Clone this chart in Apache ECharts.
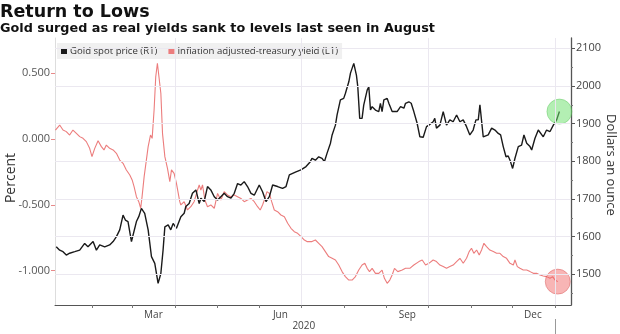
<!DOCTYPE html>
<html><head><meta charset="utf-8">
<script src="https://cdn.jsdelivr.net/npm/echarts@6/dist/echarts.min.js"></script>
<style>html,body{margin:0;padding:0;background:#fff}#c{width:620px;height:334px}</style>
</head><body><div id="c"></div>
<script>
const titleText = 'Return to Lows';
const subtitleText = 'Gold surged as real yields sank to levels last seen in August';
const goldName = 'Gold spot price (R1)';
const yieldName = 'Inflation adjusted-treasury yield (L1)';
const leftAxisName = 'Percent';
const rightAxisName = 'Dollars an ounce';

// x values: days since 2020-01-01
const goldDays = [4.6,7.1,9.5,11.9,14.3,18.0,21.6,25.2,27.6,31.3,33.7,36.1,39.7,43.3,45.8,48.2,50.6,53.0,54.7,56.6,59.1,60.3,62.7,64.4,66.3,68.7,71.2,73.6,76.0,78.4,80.4,82.0,83.3,85.7,87.6,89.3,91.7,
94.9,97.3,98.5,100.9,103.3,105.8,108.2,109.4,111.8,114.2,116.6,119.1,121.5,123.9,126.3,128.7,131.2,133.6,136.0,138.4,140.8,143.2,145.7,148.1,151.7,154.1,156.6,159.0,161.4,165.0,168.6,171.1,173.5,175.9,178.3,181.9,185.6,
188.7,189.9,192.4,194.8,197.2,198.9,200.8,203.3,204.5,206.9,208.1,210.5,212.9,214.1,215.3,216.6,217.8,220.2,222.1,223.1,224.5,226.2,227.4,228.6,229.9,231.1,232.3,233.5,235.9,238.3,239.5,240.7,242.0,244.4,245.6,248.0,251.6,254.1,256.5,257.7,260.1,261.8,263.7,266.1,268.1,270.5,272.9,274.6,
277.7,278.9,280.1,282.6,285.0,287.4,289.8,292.2,294.7,297.1,299.5,301.9,304.3,306.7,308.7,310.4,311.6,312.8,314.0,315.2,317.6,320.1,322.5,324.9,326.6,328.5,330.5,332.1,333.4,335.3,337.0,339.4,341.8,343.5,345.5,347.9,349.1,351.5,353.9,355.1,357.5,359.9,362.4,364.8,367.2,369.2];
const goldPrice = [1573,1564,1560,1551,1556,1560,1564,1582,1573,1587,1564,1578,1573,1578,1587,1600,1618,1657,1644,1640,1587,1591,1640,1653,1675,1662,1618,1547,1529,1476,1502,1564,1626,1631,1618,1635,1622,
1653,1662,1680,1688,1715,1724,1688,1702,1693,1733,1724,1706,1697,1706,1715,1706,1702,1715,1741,1737,1746,1733,1715,1710,1737,1719,1693,1706,1737,1733,1728,1733,1764,1768,1772,1777,1786,
1799,1808,1803,1812,1808,1799,1821,1848,1870,1896,1923,1963,1967,1980,1985,2011,2034,2060,2029,1998,1914,1914,1949,1945,1989,1998,1936,1945,1936,1932,1954,1932,1963,1967,1954,1932,1932,1945,1941,1954,1958,1954,1932,1901,1865,1864,1892,1896,
1905,1914,1888,1896,1932,1896,1910,1905,1923,1905,1910,1892,1870,1883,1910,1910,1950,1945,1865,1870,1870,1888,1883,1874,1870,1839,1812,1814,1803,1781,1808,1839,1843,1870,1848,1839,1830,1861,1883,1888,1865,1883,1879,1896,1910,1932];

const yieldDays = [4.0,4.6,7.1,9.5,11.9,14.3,16.7,19.2,21.6,24.0,26.4,28.8,30.5,32.5,34.9,37.3,39.2,40.9,43.3,45.8,48.2,50.6,53.0,55.4,57.9,59.6,61.0,62.7,64.4,65.8,66.8,68.3,69.9,71.2,72.9,74.1,75.5,76.7,77.9,79.1,80.4,81.6,83.3,85.2,86.9,88.1,90.0,91.7,94.1,
94.9,97.3,99.7,102.1,104.5,107.0,108.2,109.4,110.6,112.3,114.2,116.6,119.1,121.5,123.9,126.3,128.7,131.2,133.6,136.0,138.4,140.8,143.2,145.7,148.1,150.5,152.4,154.1,155.8,157.3,159.0,160.7,162.6,165.0,167.4,169.9,172.3,174.7,177.1,179.5,182.0,184.4,186.3,
189.9,192.4,194.8,197.2,199.6,202.0,204.5,206.9,209.3,211.7,214.1,216.6,219.0,221.4,223.8,226.2,228.2,229.9,231.6,233.5,235.9,238.3,240.7,242.4,244.4,246.3,248.0,249.7,252.1,255.3,257.7,260.8,263.7,267.4,269.8,272.2,274.6,
277.7,280.1,282.6,285.0,287.4,289.8,292.2,294.7,297.1,299.5,301.9,303.8,305.5,307.2,309.2,311.1,312.8,314.5,316.4,318.8,321.3,323.7,326.1,328.5,330.9,333.4,335.8,337.0,338.7,340.6,343.0,345.5,347.9,350.3,352.7,355.1,357.5,359.9,362.4,364.3,366.0,368.0];
const yieldPct = [0.068,0.081,0.106,0.068,0.056,0.030,0.068,0.043,0.018,0.005,-0.020,-0.071,-0.134,-0.071,-0.013,-0.058,-0.083,-0.046,-0.071,-0.083,-0.109,-0.160,-0.185,-0.235,-0.273,-0.311,-0.362,-0.438,-0.476,-0.526,-0.438,-0.286,-0.160,-0.058,0.030,0.005,0.220,0.473,0.575,0.575,0.347,0.043,-0.134,-0.223,-0.324,-0.235,-0.261,-0.337,-0.476,
-0.501,-0.476,-0.539,-0.514,-0.476,-0.387,-0.349,-0.387,-0.349,-0.463,-0.514,-0.501,-0.526,-0.413,-0.463,-0.400,-0.425,-0.438,-0.425,-0.438,-0.451,-0.476,-0.463,-0.451,-0.476,-0.514,-0.539,-0.501,-0.451,-0.400,-0.413,-0.476,-0.539,-0.552,-0.577,-0.590,-0.640,-0.678,-0.704,-0.716,-0.741,-0.767,-0.779,
-0.779,-0.767,-0.792,-0.817,-0.855,-0.893,-0.906,-0.919,-0.957,-1.007,-1.045,-1.071,-1.071,-1.045,-0.995,-0.957,-0.944,-0.982,-1.007,-0.982,-1.020,-1.020,-0.995,-1.058,-1.096,-1.071,-1.033,-0.982,-1.007,-0.995,-0.982,-0.982,-0.957,-0.931,-0.919,-0.957,-0.944,
-0.919,-0.931,-0.957,-0.969,-0.982,-0.969,-0.957,-0.931,-0.906,-0.944,-0.906,-0.855,-0.830,-0.868,-0.843,-0.881,-0.843,-0.792,-0.817,-0.843,-0.855,-0.868,-0.868,-0.893,-0.906,-0.944,-0.957,-0.919,-0.969,-0.982,-0.995,-0.995,-1.007,-1.020,-1.020,-1.033,-1.040,-1.045,-1.058,-1.045,-1.071,-1.083];

const leftTicks = [-1, -0.5, 0, 0.5];
const rightTicks = [1500, 1600, 1700, 1800, 1900, 2000, 2100];
const rightMinorTicks = [1450, 1550, 1650, 1750, 1850, 1950, 2050];
const monthStartDays = [31, 60, 91, 121, 152, 182, 213, 244, 274, 305, 335, 366];
const monthLabelDays = [75, 167, 259, 350];
const monthLabelText = ['Mar', 'Jun', 'Sep', 'Dec'];
const quarterDays = [91, 182, 274, 366];
const yearLabelDays = [184];
const yearLabelText = ['2020'];
const yearBreakDays = [366];

const AX_FONT = 'Open Sans, Liberation Sans, sans-serif';
const X_MIN = 3.7, X_MAX = 377.6;
const goldData = goldDays.map((d, i) => [d, goldPrice[i]]);
const yieldData = yieldDays.map((d, i) => [d, yieldPct[i]]);
const gridColor = '#ebe8f0';

const chart = echarts.init(document.getElementById('c'), null, {renderer: 'canvas'});
chart.setOption({
  animation: false,
  backgroundColor: '#fff',
  title: [{
    text: titleText, left: 0, top: 2, padding: 0,
    textStyle: {fontFamily: 'DejaVu Sans', fontWeight: 'bold', fontSize: 17.5, color: '#111', lineHeight: 20}
  }, {
    text: subtitleText, left: 0, top: 22, padding: 0,
    textStyle: {fontFamily: 'DejaVu Sans', fontWeight: 'bold', fontSize: 12.8, color: '#111', lineHeight: 14}
  }],
  legend: {
    data: [goldName, yieldName], left: 57, top: 43, padding: [3, 4, 3, 4],
    itemGap: 11, itemWidth: 6, itemHeight: 6, icon: 'rect',
    backgroundColor: '#f0f0f0',
    textStyle: {fontFamily: AX_FONT, fontSize: 9.6, color: '#333', padding: [0, 0, 0, -2]}
  },
  grid: {left: 55, right: 49, top: 38, bottom: 29, containLabel: false, outerBoundsMode: 'none'},
  xAxis: [{
    type: 'value', min: X_MIN, max: X_MAX,
    axisLine: {show: true, onZero: false, lineStyle: {color: '#555', width: 1}},
    axisTick: {show: true, customValues: monthStartDays, length: 3, lineStyle: {color: '#777'}},
    axisLabel: {customValues: monthLabelDays, margin: 5, fontFamily: AX_FONT, fontSize: 10, color: '#444',
      formatter: v => monthLabelText[monthLabelDays.indexOf(v)] || ''},
    splitLine: {show: false}
  }, {
    type: 'value', min: X_MIN, max: X_MAX, position: 'bottom', offset: 14,
    axisLine: {show: false, onZero: false},
    axisTick: {show: true, customValues: yearBreakDays, length: 18, lineStyle: {color: '#999'}},
    axisLabel: {customValues: yearLabelDays, margin: 2, fontFamily: AX_FONT, fontSize: 10, color: '#444',
      formatter: v => yearLabelText[yearLabelDays.indexOf(v)] || ''},
    splitLine: {show: false}
  }],
  yAxis: [{
    type: 'value', position: 'left', min: -1.2605, max: 0.7669,
    name: leftAxisName, nameLocation: 'middle', nameGap: 37, nameMoveOverlap: false,
    nameTextStyle: {fontFamily: AX_FONT, fontSize: 14, color: '#333', padding: [0, 13, 0, 0]},
    axisLine: {show: true, onZero: false, lineStyle: {color: '#ddd'}},
    axisTick: {show: true, customValues: leftTicks, length: 4, lineStyle: {color: '#e88a8a'}},
    axisLabel: {customValues: leftTicks, margin: 5, fontFamily: AX_FONT, fontSize: 11, color: '#555',
      formatter: v => v.toFixed(3)},
    splitLine: {show: false}
  }, {
    type: 'value', position: 'right', min: 1418.5, max: 2127.3,
    name: rightAxisName, nameLocation: 'middle', nameGap: 33, nameRotate: -90, nameMoveOverlap: false,
    nameTextStyle: {fontFamily: AX_FONT, fontSize: 13, color: '#333', padding: [0, 13, 0, 0]},
    axisLine: {show: true, onZero: false, lineStyle: {color: '#555', width: 1.3}},
    axisTick: {show: true, customValues: rightTicks, length: 4, lineStyle: {color: '#555'}},
    axisLabel: {customValues: rightTicks, margin: 5, fontFamily: AX_FONT, fontSize: 11, color: '#444',
      formatter: v => String(v)},
    splitLine: {show: false}
  }, {
    type: 'value', position: 'right', min: 1418.5, max: 2127.3,
    axisLine: {show: false, onZero: false},
    axisTick: {show: true, customValues: rightMinorTicks, length: 2, lineStyle: {color: '#777'}},
    axisLabel: {show: false},
    splitLine: {show: false}
  }],
  series: [{
    name: 'grid', type: 'line', xAxisIndex: 0, yAxisIndex: 1, data: [], z: 1, silent: true,
    markLine: {
      silent: true, symbol: ['none', 'none'], label: {show: false},
      lineStyle: {color: gridColor, width: 1, type: 'solid'},
      emphasis: {disabled: true},
      data: rightTicks.map(v => ({yAxis: v})).concat(quarterDays.map(d => ({xAxis: d})))
    }
  }, {
    name: yieldName, type: 'line', xAxisIndex: 0, yAxisIndex: 0, data: yieldData,
    showSymbol: false, symbol: 'none', z: 2, color: '#ec7d7d',
    lineStyle: {color: '#ec7d7d', width: 1.1}
  }, {
    name: goldName, type: 'line', xAxisIndex: 0, yAxisIndex: 1, data: goldData,
    showSymbol: false, symbol: 'none', z: 3, color: '#1a1a1a',
    lineStyle: {color: '#1a1a1a', width: 1.4}
  }, {
    name: 'goldLast', type: 'scatter', xAxisIndex: 0, yAxisIndex: 1, z: 4, silent: true,
    data: [goldData[goldData.length - 1]], symbolSize: 25,
    itemStyle: {color: 'rgba(110,225,110,0.65)', borderColor: 'rgba(80,190,80,0.5)', borderWidth: 1}
  }, {
    name: 'yieldLast', type: 'scatter', xAxisIndex: 0, yAxisIndex: 0, z: 4, silent: true,
    data: [yieldData[yieldData.length - 1]], symbolSize: 25,
    itemStyle: {color: 'rgba(240,100,100,0.6)', borderColor: 'rgba(210,70,70,0.5)', borderWidth: 1}
  }]
});
</script>
</body></html>
